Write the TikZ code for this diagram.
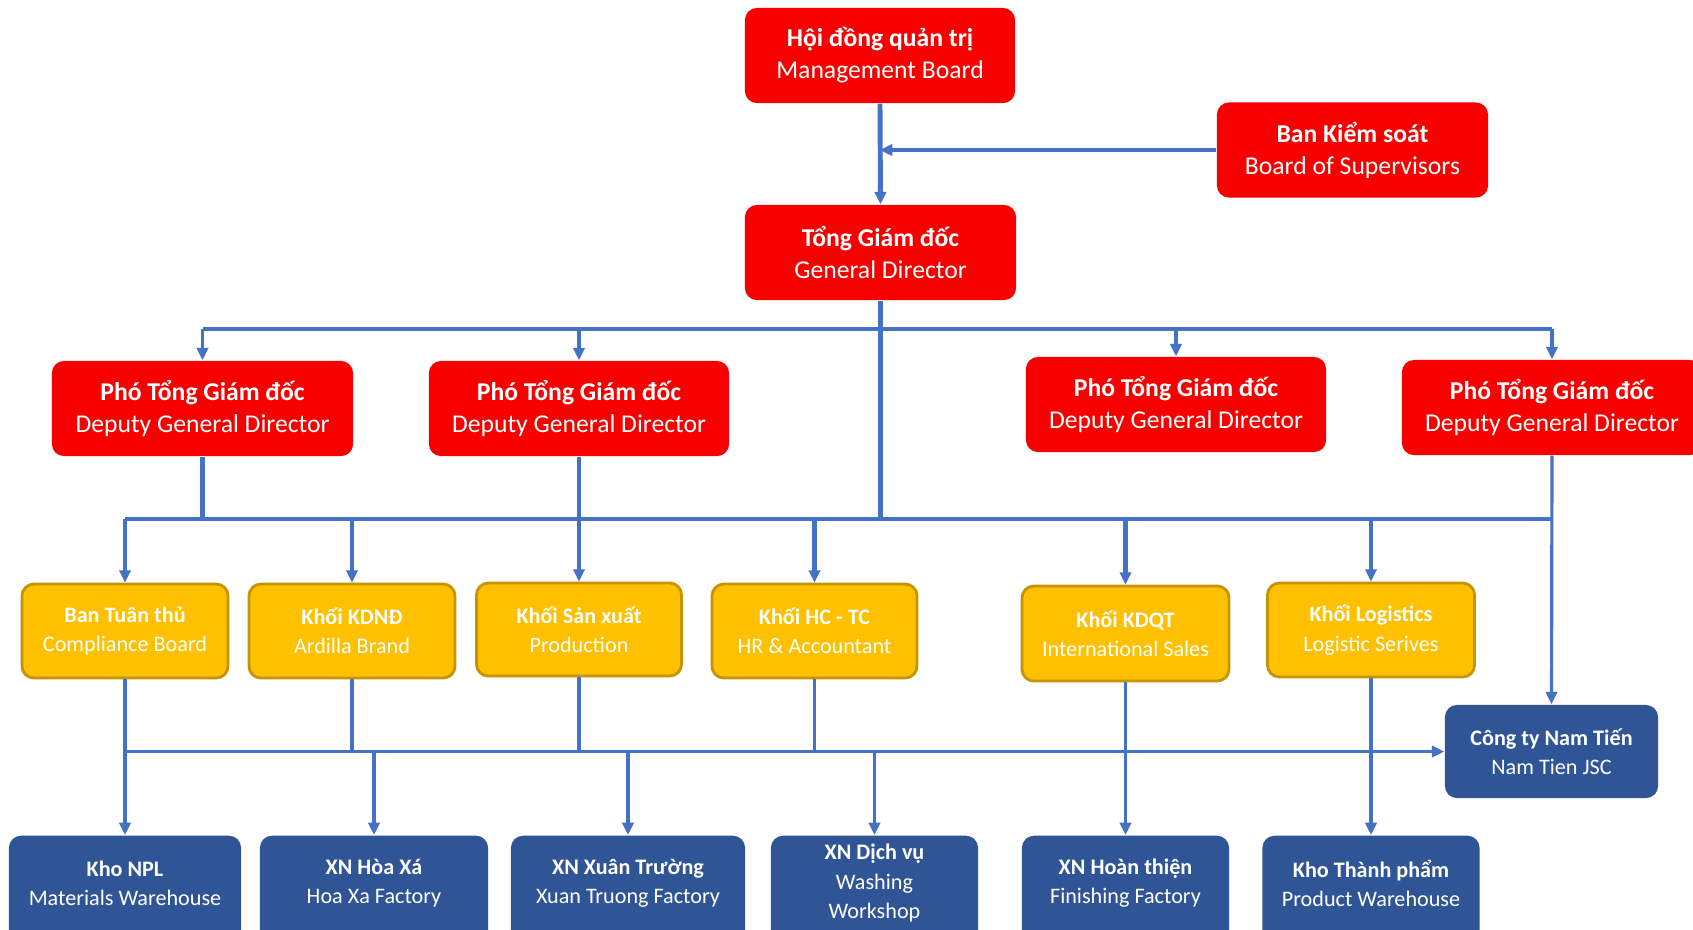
\documentclass[tikz,border=0pt]{standalone}
\usepackage{fontspec}
\setmainfont{Carlito}
\usetikzlibrary{arrows.meta}
\definecolor{redbox}{HTML}{F70000}
\definecolor{bluebox}{HTML}{2F5597}
\definecolor{yelbox}{HTML}{FFC000}
\definecolor{yelline}{HTML}{C49500}
\definecolor{connc}{HTML}{4472C4}
\begin{document}
\begin{tikzpicture}[x=0.01cm,y=-0.01cm,
 redb/.style={fill=redbox, rounded corners=0.12cm, text=white, align=center, font=\fontsize{7.3}{9.1}\selectfont, inner sep=0pt, minimum height=0.95cm},
 yelb/.style={fill=yelbox, draw=yelline, line width=0.8pt, rounded corners=0.12cm, text=white, align=center, font=\fontsize{6.3}{8.3}\selectfont, inner sep=0pt, minimum height=0.94cm},
 blueb/.style={fill=bluebox, rounded corners=0.12cm, inner sep=0pt, minimum height=1.3cm, anchor=north},
 bluet/.style={text=white, align=center, font=\fontsize{6.3}{8.3}\selectfont, inner sep=0pt},
 ln/.style={draw=connc, line width=0.9pt},
 lnthick/.style={draw=connc, line width=1.4pt},
 arr/.style={-{Triangle[length=3.5pt,width=3.2pt]}},
]
\path[use as bounding box, clip] (0,0) rectangle (1693,929);
\fill[white] (0,0) rectangle (1693,929);

% red boxes
\node[redb, minimum width=2.70cm] (hdqt) at (880,55.5) {\textbf{Hội đồng quản trị}\\Management Board};
\node[redb, minimum width=2.71cm] (bks) at (1352.5,150) {\textbf{Ban Kiểm soát}\\Board of Supervisors};
\node[redb, minimum width=2.71cm] (tgd) at (880.5,252.5) {\textbf{Tổng Giám đốc}\\General Director};
\node[redb, minimum width=3.01cm] (pgd1) at (202.5,408.5) {\textbf{Phó Tổng Giám đốc}\\Deputy General Director};
\node[redb, minimum width=3.00cm] (pgd2) at (579,408.5) {\textbf{Phó Tổng Giám đốc}\\Deputy General Director};
\node[redb, minimum width=3.00cm] (pgd3) at (1176,404.5) {\textbf{Phó Tổng Giám đốc}\\Deputy General Director};
\node[redb, minimum width=3.00cm] (pgd4) at (1552,407.5) {\textbf{Phó Tổng Giám đốc}\\Deputy General Director};

% yellow boxes
\node[yelb, minimum width=2.06cm] (tt) at (125,631) {\textbf{Ban Tuân thủ}\\Compliance Board};
\node[yelb, minimum width=2.06cm] (kdnd) at (352,631) {\textbf{Khối KDNĐ}\\Ardilla Brand};
\node[yelb, minimum width=2.05cm, minimum height=0.93cm] (sx) at (579,629.5) {\textbf{Khối Sản xuất}\\Production};
\node[yelb, minimum width=2.05cm] (hctc) at (814.5,631) {\textbf{Khối HC - TC}\\HR \& Accountant};
\node[yelb, minimum width=2.07cm, minimum height=0.95cm] (kdqt) at (1125.5,633.5) {\textbf{Khối KDQT}\\International Sales};
\node[yelb, minimum width=2.07cm] (logi) at (1371,630) {\textbf{Khối Logistics}\\Logistic Serives};

% blue boxes
\node[blueb, minimum width=2.32cm] (npl) at (125,835) {};
\node[bluet] (npl-t) at (125,883) {\textbf{Kho NPL}\\Materials Warehouse};
\node[blueb, minimum width=2.28cm] (hx) at (374,835) {};
\node[bluet] (hx-t) at (374,883) {\textbf{XN Hòa Xá}\\Hoa Xa Factory};
\node[blueb, minimum width=2.34cm] (xt) at (628,835) {};
\node[bluet] (xt-t) at (628,883) {\textbf{XN Xuân Trường}\\Xuan Truong Factory};
\node[blueb, minimum width=2.07cm] (dv) at (874.5,835) {};
\node[bluet] (dv-t) at (874.5,883) {\textbf{XN Dịch vụ}\\Washing\\Workshop};
\node[blueb, minimum width=2.07cm] (ht) at (1125.5,835) {};
\node[bluet] (ht-t) at (1125.5,883) {\textbf{XN Hoàn thiện}\\Finishing Factory};
\node[blueb, minimum width=2.17cm] (ktp) at (1371,835) {};
\node[bluet] (ktp-t) at (1371,883) {\textbf{Kho Thành phẩm}\\Product Warehouse};
\node[fill=bluebox, rounded corners=0.12cm, inner sep=0pt, minimum width=2.13cm, minimum height=0.93cm, text=white, align=center, font=\fontsize{6.3}{8.3}\selectfont] (nt) at (1551.5,751.5) {\textbf{Công ty Nam Tiến}\\Nam Tien JSC};

% bus levels
\coordinate (b1) at (0,329);
\coordinate (b2) at (0,519);
\coordinate (b3) at (0,751.5);
\coordinate (bks-j) at (880,150);

% top
\draw[lnthick, arr] (hdqt.south) -- (tgd.north);
\draw[ln, arr] (bks.west) -- (bks-j);
\draw[lnthick] (tgd.south) -- (tgd.south |- b2);
\draw[ln] (pgd1.north |- b1) -- (pgd4.north |- b1);
\foreach \n in {pgd1,pgd2,pgd3,pgd4} \draw[ln, arr] (\n.north |- b1) -- (\n.north);

% second level
\draw[lnthick] (pgd1.south) -- (pgd1.south |- b2);
\draw[lnthick] (tt.north |- b2) -- (kdnd.north |- b2);
\draw[ln] (kdnd.north |- b2) -- (pgd4.south |- b2);
\draw[lnthick, arr] (tt.north |- b2) -- (tt.north);
\draw[lnthick, arr] (kdnd.north |- b2) -- (kdnd.north);
\draw[lnthick, arr] (pgd2.south) -- (sx.north);
\draw[lnthick, arr] (hctc.north |- b2) -- (hctc.north);
\draw[lnthick, arr] (kdqt.north |- b2) -- (kdqt.north);
\draw[ln, arr] (logi.north |- b2) -- (logi.north);
\draw[ln, arr] (pgd4.south) -- (nt.north);

% third level
\draw[ln, arr] (tt.south) -- (npl.north);
\draw[ln] (kdnd.south) -- (kdnd.south |- b3);
\draw[ln] (sx.south) -- (sx.south |- b3);
\draw[ln] (hctc.south) -- (hctc.south |- b3);
\draw[ln, arr] (tt.south |- b3) -- (nt.west);
\draw[ln, arr] (hx.north |- b3) -- (hx.north);
\draw[ln, arr] (xt.north |- b3) -- (xt.north);
\draw[ln, arr] (dv.north |- b3) -- (dv.north);
\draw[ln, arr] (kdqt.south) -- (ht.north);
\draw[ln, arr] (logi.south) -- (ktp.north);
\end{tikzpicture}
\end{document}
